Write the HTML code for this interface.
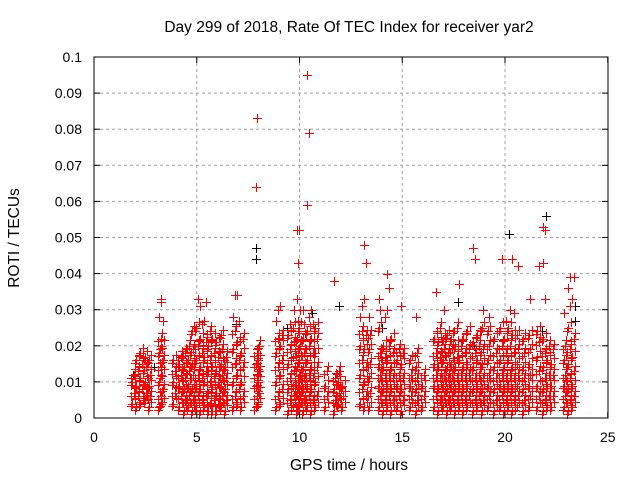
<!DOCTYPE html>
<html><head><meta charset="utf-8"><style>
body{margin:0;background:#fff}
svg text{font-family:"Liberation Sans",sans-serif;font-size:14px;fill:#000}
svg text.big{font-size:15.5px}
</style></head><body>
<svg id="chart" width="640" height="480" xmlns="http://www.w3.org/2000/svg">
<text class="big" x="349" y="32" text-anchor="middle">Day 299 of 2018, Rate Of TEC Index for receiver yar2</text>
<text class="big" x="349" y="470" text-anchor="middle">GPS time / hours</text>
<text class="big" transform="translate(19,238) rotate(-90)" text-anchor="middle">ROTI / TECUs</text>
<g id="grid"></g><g id="marks"></g><g id="axes"></g>
</svg>
<script>
const xTicks=[0,5,10,15,20,25];
const yTicks=[0,0.01,0.02,0.03,0.04,0.05,0.06,0.07,0.08,0.09,0.1];
const yTickLabels=["0","0.01","0.02","0.03","0.04","0.05","0.06","0.07","0.08","0.09","0.1"];
// red series: times (hours) and ROTI values (x0.001) per column
const redTimes=[1.9,2.1,2.3,2.5,2.7,3.2,3.3,3.9,4.2,4.4,4.6,4.8,5.0,5.2,5.4,5.6,5.8,6.0,6.2,6.4,6.8,7.0,7.2,7.9,8.0,8.9,9.1,9.5,9.7,9.9,10.0,10.2,10.4,10.6,10.8,11.3,11.7,11.9,12.1,13.0,13.2,13.4,13.9,14.1,14.3,14.5,14.8,15.0,15.4,15.7,16.0,16.6,16.8,17.0,17.2,17.4,17.6,17.8,18.0,18.2,18.5,18.7,18.9,19.2,19.5,19.8,20.0,20.2,20.4,20.6,20.9,21.2,21.6,21.9,22.1,22.3,22.9,23.1,23.3];
const redValues=[
[4,7,10,12],[3,6,9,13,16],[4,8,11,15,18],[5,7,10,14,17],[3,6,9,12,16],
[3,6,10,14,18,22,28,33],[4,8,12,16,20,27,32],
[4,7,10,13,16],[3,6,9,12,15,17],[2,5,8,11,14,18],[3,6,9,13,16,20],[2,5,8,12,15,19,24],
[3,6,9,12,16,20,25,33],[2,5,8,11,14,18,22,26,31],[3,6,10,13,17,21,27,32],[2,4,7,10,13,16,20,24],
[2,5,8,11,14,18,22],[2,4,7,10,13,17,21],[3,6,9,12,15,19,23],[2,5,8,11,14,17],
[3,6,10,15,19,24,28,34],[4,8,12,16,21,27,34],[3,6,10,14,18,22],
[3,6,9,12,15,18,64,83],[4,7,10,13,16,20],
[3,6,10,14,18,22,27,30],[4,8,12,16,20,23,31],
[2,5,8,11,15,19,23,26],[3,6,9,13,17,21,25,30],[2,4,7,10,14,18,22,27,33,43,52],[3,6,9,12,16,20,25,30,52],
[2,5,8,11,14,18,22,26,30],[3,6,9,12,16,20,24,28,59,79,95],[2,5,8,11,14,18,22,26,30],[3,6,10,14,18,22,25],
[3,6,9,13],[2,5,8,11,38],[4,7,10,13],[3,6,9],
[4,8,12,16,20,24,28,31],[3,6,10,14,19,23,33,43,48],[3,7,11,15,19,23,28],
[3,6,9,12,15,18,25,30,33],[2,5,8,11,14,17,20,28],[3,6,9,12,16,20,30,36,40],[2,5,8,11,14,18,22],
[3,6,9,12,16,19],[2,5,8,11,15,18,31],[3,6,9,12,16],[2,5,8,11,14,18,28],[3,6,9,12],
[3,6,9,12,15,18,22,35],[2,5,8,11,14,17,21,25],[3,6,9,12,16,19,22,30],[2,5,8,11,14,18,23],
[3,6,9,12,15,19,22],[2,5,8,11,14,17,20,25],[3,6,9,12,16,20,37],[2,5,8,11,14,18,22],
[3,6,9,12,15,19,24],[2,5,8,11,14,18,21,44,47],[3,6,9,12,16,20,23],[2,5,8,11,15,19,25,30],
[3,6,9,12,16,20,24,28],[2,5,8,11,14,18,22],[3,6,9,12,16,20,25,44],[2,5,8,11,14,18,22,27],
[3,6,9,12,16,20,25,30],[2,5,8,11,14,18,23,29,44],[3,6,9,12,15,19,23,42],[2,5,8,11,14,18,22],
[3,6,9,12,15,19,23,33],[3,6,9,13,17,21,24,42],[2,5,8,11,14,18,22,33,43,52,53],[3,6,9,12,16,20],
[3,6,9,12,15,19],[3,6,9,12,16,20,29],[2,5,8,11,15,19,25,31,36,39],[3,6,9,13,17,22,33,39]
];
// black series (sparse, drawn below red)
const blackTimes=[1.9,2.9,6.9,7.9,7.9,9.4,10.6,11.9,14.0,17.7,18.5,20.2,21.8,22.0,23.4,23.4];
const blackValues=[12,14,26,44,47,25,29,31,25,32,20,51,24,56,31,27];

const X=t=>94+t*20.55, Y=v=>418-v*3610;
const ns="http://www.w3.org/2000/svg";
const grid=document.getElementById('grid'),marks=document.getElementById('marks'),axes=document.getElementById('axes');
function mk(p,tag,a){const e=document.createElementNS(ns,tag);for(const k in a)e.setAttribute(k,a[k]);p.appendChild(e);return e;}
xTicks.forEach(t=>{
  if(t>0&&t<25){const g=mk(grid,'line',{x1:X(t),x2:X(t),y1:57,y2:418,stroke:'#a0a0a0','stroke-dasharray':'3,3'});
  
  }
  const l=mk(axes,'text',{x:X(t),y:442,'text-anchor':'middle'});l.textContent=t;
  
  
  mk(axes,'line',{x1:X(t),x2:X(t),y1:418,y2:412,stroke:'#000'});
  mk(axes,'line',{x1:X(t),x2:X(t),y1:57,y2:63,stroke:'#000'});
});
yTicks.forEach((v,i)=>{
  if(i>0&&i<10){const g=mk(grid,'line',{x1:94,x2:608,y1:Y(v),y2:Y(v),stroke:'#a0a0a0','stroke-dasharray':'3,3'});
  
  }
  const l=mk(axes,'text',{x:82,y:Y(v)+5,'text-anchor':'end'});l.textContent=yTickLabels[i];
  
  
  mk(axes,'line',{x1:94,x2:100,y1:Y(v),y2:Y(v),stroke:'#000'});
  mk(axes,'line',{x1:602,x2:608,y1:Y(v),y2:Y(v),stroke:'#000'});
});
const fr=mk(axes,'rect',{x:94,y:57,width:514,height:361,fill:'none',stroke:'#000'});


function plus(x,y,c,name){
  const g=mk(marks,'g',{fill:c});
  
  
  mk(g,'rect',{x:x-4,y:y,width:9,height:1});
  mk(g,'rect',{x:x,y:y-4,width:1,height:9});
}
blackTimes.forEach((t,i)=>plus(Math.round(X(t)),Math.round(Y(blackValues[i]/1000)),'#000000','black-point'));
redTimes.forEach((t,i)=>redValues[i].forEach((v,j)=>{
  plus(Math.round(X(t+(j%2?0.04:-0.04))),Math.round(Y(v/1000)),'#ff0000','red-point');
  if(v<26){
    plus(Math.round(X(t+0.09)),Math.round(Y((v+1.5)/1000)),'#ff0000','red-point');
    plus(Math.round(X(t-0.09)),Math.round(Y((v-0.8)/1000)),'#ff0000','red-point');
  }
}));
</script>
</body></html>
